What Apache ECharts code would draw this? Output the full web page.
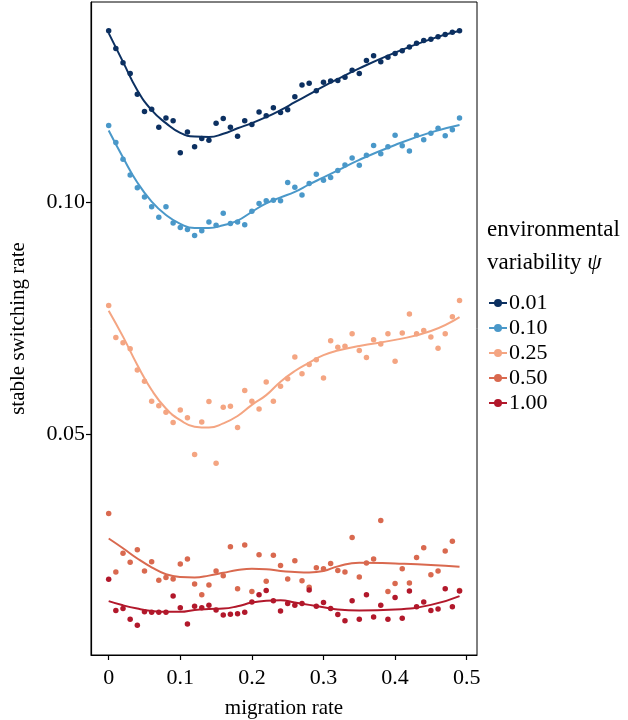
<!DOCTYPE html>
<html>
<head>
<meta charset="utf-8">
<script src="https://cdn.jsdelivr.net/npm/echarts@6/dist/echarts.min.js"></script>
<style>html,body{margin:0;padding:0;background:#fff;}#c{width:628px;height:720px;}</style>
</head>
<body>
<div id="c"></div>
<script>
var migration = [0.00,0.01,0.02,0.03,0.04,0.05,0.06,0.07,0.08,0.09,
  0.10,0.11,0.12,0.13,0.14,0.15,0.16,0.17,0.18,0.19,
  0.20,0.21,0.22,0.23,0.24,0.25,0.26,0.27,0.28,0.29,
  0.30,0.31,0.32,0.33,0.34,0.35,0.36,0.37,0.38,0.39,
  0.40,0.41,0.42,0.43,0.44,0.45,0.46,0.47,0.48,0.49];
var seriesNames = ['0.01','0.10','0.25','0.50','1.00'];
var colors = ['#0c3061','#4a98c9','#f4a582','#d9694f','#b2182b'];
var pts001 = [0.1369,0.1331,0.1300,0.1277,0.1232,0.1195,0.1200,0.1161,0.1181,0.1175,
  0.1106,0.1151,0.1119,0.1137,0.1133,0.1170,0.1180,0.1161,0.1142,0.1175,
  0.1167,0.1194,0.1186,0.1203,0.1193,0.1199,0.1227,0.1252,0.1256,0.1240,
  0.1258,0.1261,0.1262,0.1269,0.1284,0.1277,0.1305,0.1315,0.1302,0.1312,
  0.1320,0.1326,0.1334,0.1342,0.1348,0.1351,0.1356,0.1361,0.1366,0.1369];
var pts010 = [0.1165,0.1128,0.1092,0.1058,0.1031,0.1011,0.0990,0.0967,0.0990,0.0955,
  0.0945,0.0941,0.0928,0.0938,0.0957,0.0950,0.0976,0.0954,0.0957,0.0951,
  0.0980,0.0997,0.1003,0.1004,0.1003,0.1042,0.1032,0.1015,0.1040,0.1060,
  0.1047,0.1053,0.1068,0.1080,0.1095,0.1079,0.1101,0.1122,0.1104,0.1119,
  0.1144,0.1121,0.1110,0.1144,0.1134,0.1148,0.1159,0.1143,0.1156,0.1181];
var pts025 = [0.0777,0.0708,0.0697,0.0684,0.0638,0.0614,0.0571,0.0561,0.0547,0.0525,
  0.0552,0.0535,0.0456,0.0526,0.0570,0.0437,0.0558,0.0560,0.0514,0.0594,
  0.0571,0.0554,0.0612,0.0571,0.0603,0.0619,0.0666,0.0630,0.0650,0.0660,
  0.0621,0.0701,0.0687,0.0689,0.0716,0.0680,0.0665,0.0703,0.0694,0.0716,
  0.0657,0.0718,0.0759,0.0716,0.0723,0.0709,0.0685,0.0716,0.0753,0.0788];
var pts050 = [0.0329,0.0203,0.0243,0.0224,0.0251,0.0205,0.0225,0.0185,0.0191,0.0188,
  0.0220,0.0231,0.0177,0.0154,0.0175,0.0205,0.0195,0.0257,0.0167,0.0261,
  0.0161,0.0240,0.0183,0.0239,0.0217,0.0188,0.0227,0.0184,0.0170,0.0212,
  0.0210,0.0221,0.0206,0.0203,0.0277,0.0192,0.0222,0.0231,0.0314,0.0161,
  0.0178,0.0210,0.0179,0.0234,0.0255,0.0197,0.0205,0.0248,0.0269,0.0163];
var pts100 = [0.0187,0.0120,0.0124,0.0101,0.0088,0.0117,0.0116,0.0116,0.0116,0.0151,
  0.0126,0.0091,0.0129,0.0126,0.0131,0.0121,0.0110,0.0112,0.0113,0.0116,
  0.0138,0.0154,0.0163,0.0141,0.0119,0.0135,0.0131,0.0135,0.0164,0.0129,
  0.0137,0.0124,0.0111,0.0098,0.0141,0.0101,0.0154,0.0106,0.0131,0.0101,
  0.0148,0.0103,0.0162,0.0128,0.0138,0.0120,0.0123,0.0167,0.0128,0.0162];
// smoothed trend curves
var curveX = [0,0.02,0.04,0.06,0.08,0.10,0.12,0.14,0.16,0.18,0.20,0.22,0.24,0.26,0.28,0.30,0.32,0.35,0.40,0.45,0.49];
var fit001 = [0.1364,0.1302,0.1241,0.1198,0.1170,0.1149,0.1141,0.1140,0.1147,0.1159,0.1170,0.1183,0.1198,0.1215,0.1232,0.1249,0.1265,0.1288,0.1322,0.1351,0.1369];
var fit010 = [0.1154,0.1096,0.1042,0.1001,0.0972,0.0953,0.0944,0.0944,0.0950,0.0960,0.0979,0.0997,0.1010,0.1022,0.1038,0.1053,0.1068,0.1091,0.1123,0.1150,0.1166];
var fit025 = [0.0766,0.0710,0.0649,0.0595,0.0555,0.0530,0.0516,0.0514,0.0523,0.0539,0.0563,0.0584,0.0613,0.0636,0.0654,0.0670,0.0680,0.0690,0.0703,0.0722,0.0752];
var fit050 = [0.0275,0.0254,0.0232,0.0213,0.0198,0.0192,0.0191,0.0195,0.0201,0.0207,0.0210,0.0209,0.0205,0.0203,0.0202,0.0205,0.0215,0.0223,0.0221,0.0218,0.0214];
var fit100 = [0.0140,0.0131,0.0124,0.0119,0.0117,0.0117,0.0121,0.0123,0.0124,0.0129,0.0137,0.0141,0.0142,0.0137,0.0132,0.0127,0.0122,0.0120,0.0122,0.0132,0.0151];
var xTicks = [0,0.1,0.2,0.3,0.4,0.5];
var yTicks = [0.05,0.10];

var pts = [pts001,pts010,pts025,pts050,pts100];
var fits = [fit001,fit010,fit025,fit050,fit100];
var FONT = '"Liberation Serif","DejaVu Serif",serif';

var series = [];
for (var k = 0; k < seriesNames.length; k++) {
  series.push({
    name: seriesNames[k], type: 'line', smooth: 0.5,
    data: curveX.map(function(x,i){return [x, fits[k][i]];}),
    showSymbol: false, symbol: 'circle', symbolSize: 5,
    lineStyle: {color: colors[k], width: 2},
    itemStyle: {color: colors[k]}, z: 3
  });
  series.push({
    name: seriesNames[k], type: 'scatter',
    data: migration.map(function(x,i){return [x, pts[k][i]];}),
    symbol: 'circle', symbolSize: 5.5,
    itemStyle: {color: colors[k], opacity: 1}, z: 2
  });
}

var chart = echarts.init(document.getElementById('c'), null, {renderer: 'canvas'});
chart.setOption({
  animation: false,
  backgroundColor: '#fff',
  grid: {left: 91, right: 151, top: 2, bottom: 65, show: true, borderColor: '#000', borderWidth: 1,
    containLabel: false, outerBoundsMode: 'none'},
  xAxis: {
    type: 'value', min: -0.0247, max: 0.5144,
    name: 'migration rate', nameLocation: 'middle', nameGap: 43,
    nameTextStyle: {fontFamily: FONT, fontSize: 21, color: '#000'},
    axisLine: {show: true, onZero: false, lineStyle: {color: '#000', width: 1.2}},
    axisTick: {show: true, length: 5, customValues: xTicks, lineStyle: {color: '#000', width: 1.2}},
    axisLabel: {customValues: xTicks, fontFamily: FONT, fontSize: 22, color: '#000', margin: 12,
      formatter: function(v){return v === 0 ? '0' : String(Math.round(v*10)/10);}},
    splitLine: {show: false}
  },
  yAxis: {
    type: 'value', min: 0.0024, max: 0.1431,
    name: 'stable switching rate', nameLocation: 'middle', nameGap: 62,
    nameTextStyle: {fontFamily: FONT, fontSize: 21, color: '#000'},
    axisLine: {show: true, onZero: false, lineStyle: {color: '#000', width: 1.2}},
    axisTick: {show: true, length: 5, customValues: yTicks, lineStyle: {color: '#000', width: 1.2}},
    axisLabel: {customValues: yTicks, fontFamily: FONT, fontSize: 22, color: '#000', margin: 6,
      formatter: function(v){return v.toFixed(2);}},
    splitLine: {show: false}
  },
  title: {
    left: 482, top: 208,
    text: '{a|environmental}\n{a|variability }{b|ψ}',
    textStyle: {
      fontWeight: 'normal',
      rich: {
        a: {fontFamily: FONT, fontSize: 23, fontWeight: 'normal', color: '#000', lineHeight: 33},
        b: {fontFamily: FONT, fontSize: 23, fontWeight: 'normal', fontStyle: 'italic', color: '#000', lineHeight: 33}
      }
    }
  },
  legend: {
    orient: 'vertical', left: 483, top: 287, itemGap: 3,
    itemWidth: 18, itemHeight: 10,
    data: seriesNames,
    textStyle: {fontFamily: FONT, fontSize: 22, color: '#000', padding: [0,0,0,-3]}
  },
  series: series
});
</script>
</body>
</html>
